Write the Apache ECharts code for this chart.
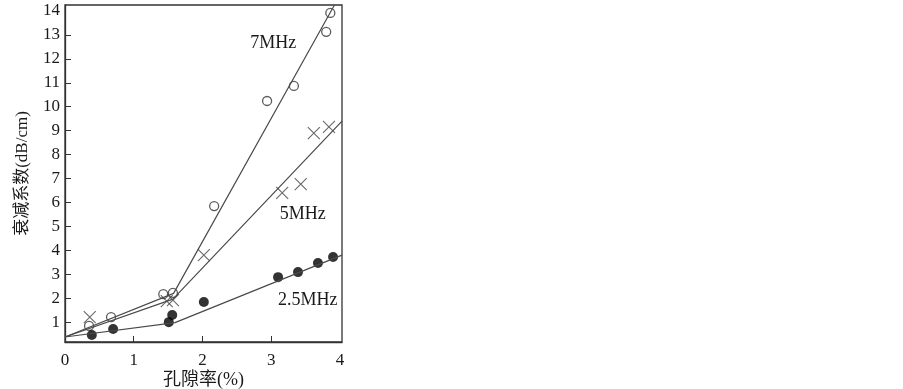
<!DOCTYPE html>
<html>
<head>
<meta charset="utf-8">
<script src="https://cdn.jsdelivr.net/npm/echarts@6/dist/echarts.min.js"></script>
<style>
  html, body { margin: 0; padding: 0; background: #fff; }
  #chart { width: 903px; height: 389px; }
</style>
</head>
<body>
<div id="chart"></div>
<script>
// measured points (porosity %, attenuation dB/cm)
const poro7 = [0.35, 0.67, 1.43, 1.57, 2.17, 2.94, 3.33, 3.80, 3.86]
const att7 = [0.84, 1.21, 2.17, 2.22, 5.85, 10.24, 10.87, 13.13, 13.92]
const poro5 = [0.36, 1.48, 1.57, 2.02, 3.16, 3.43, 3.62, 3.84]
const att5 = [1.21, 1.88, 1.92, 3.80, 6.40, 6.77, 8.90, 9.16]
const poro25 = [0.39, 0.70, 1.51, 1.56, 2.02, 3.10, 3.39, 3.68, 3.90]
const att25 = [0.46, 0.71, 1.00, 1.30, 1.84, 2.88, 3.09, 3.47, 3.72]

// fitted broken lines
const fitX7 = [0, 1.58, 3.92]
const fitY7 = [0.38, 2.2, 14.25]
const fitX5 = [0, 1.57, 4.03]
const fitY5 = [0.38, 1.96, 9.4]
const fitX25 = [0, 1.6, 4.03]
const fitY25 = [0.38, 0.98, 3.8]

// series names and where they sit
const names = ['7MHz', '5MHz', '2.5MHz']
const nameAt = [[3.03, 12.67], [3.46, 5.52], [3.53, 1.92]]

const yTicks = [1, 2, 3, 4, 5, 6, 7, 8, 9, 10, 11, 12, 13, 14]
const xTicks = [0, 1, 2, 3, 4]

const font = '"Liberation Serif", "Times New Roman", "Noto Sans CJK SC", serif'
const pair = (xs, ys) => xs.map((x, i) => [x, ys[i]])

const chart = echarts.init(document.getElementById('chart'))

const lineStyle = { color: '#4a4a4a', width: 1.2 }
function fitLine(xs, ys, idx){
    return {
        type: 'line',
        data: pair(xs, ys),
        symbol: 'none',
        lineStyle: lineStyle,
        silent: true,
        markPoint: {
            symbolSize: 0,
            data: [{ coord: nameAt[idx], value: names[idx] }],
            label: {
                show: true,
                formatter: names[idx],
                color: '#1a1a1a',
                fontFamily: font,
                fontSize: 18
            }
        }
    }
}

const option = {
    animation: false,
    backgroundColor: '#fff',
    grid: {
        left: 65, right: 561, top: 5, bottom: 47,
        outerBoundsMode: 'none',
        containLabel: false,
        show: true, borderColor: '#333', borderWidth: 1.3
    },
    xAxis: {
        type: 'value',
        min: 0,
        max: 4.03,
        name: '孔隙率(%)',
        nameLocation: 'middle',
        nameGap: 29,
        nameMoveOverlap: false,
        nameTextStyle: { color: '#1a1a1a', fontFamily: font, fontSize: 18 },
        splitLine: { show: false },
        axisLine: { lineStyle: { color: '#333', width: 1.3 } },
        axisTick: { inside: true, length: 6, customValues: [1, 2, 3], lineStyle: { color: '#333' } },
        axisLabel: {
            customValues: xTicks,
            margin: 10,
            color: '#1a1a1a',
            fontFamily: font,
            fontSize: 17
        }
    },
    yAxis: {
        type: 'value',
        min: 0.17,
        max: 14.25,
        name: '衰减系数(dB/cm)',
        nameLocation: 'middle',
        nameGap: 34,
        nameMoveOverlap: false,
        nameTextStyle: { color: '#1a1a1a', fontFamily: font, fontSize: 17 },
        splitLine: { show: false },
        axisLine: { lineStyle: { color: '#333', width: 1.3 } },
        axisTick: { inside: true, length: 6, customValues: yTicks.slice(0, 13), lineStyle: { color: '#333' } },
        axisLabel: {
            customValues: yTicks,
            margin: 5,
            color: '#1a1a1a',
            fontFamily: font,
            fontSize: 17
        }
    },
    series: [
        fitLine(fitX7, fitY7, 0),
        fitLine(fitX5, fitY5, 1),
        fitLine(fitX25, fitY25, 2),
        {
            type: 'scatter',
            data: pair(poro7, att7),
            symbol: 'circle',
            symbolSize: 9,
            itemStyle: { color: '#fff', borderColor: '#333', borderWidth: 1.3 }
        },
        {
            type: 'scatter',
            data: pair(poro5, att5),
            symbol: 'path://M0,0L10,10M10,0L0,10',
            symbolSize: 12,
            itemStyle: { color: 'none', borderColor: '#444', borderWidth: 1.1 }
        },
        {
            type: 'scatter',
            data: pair(poro25, att25),
            symbol: 'circle',
            symbolSize: 10,
            itemStyle: { color: '#000' }
        }
    ]
}
chart.setOption(option)
</script>
</body>
</html>
